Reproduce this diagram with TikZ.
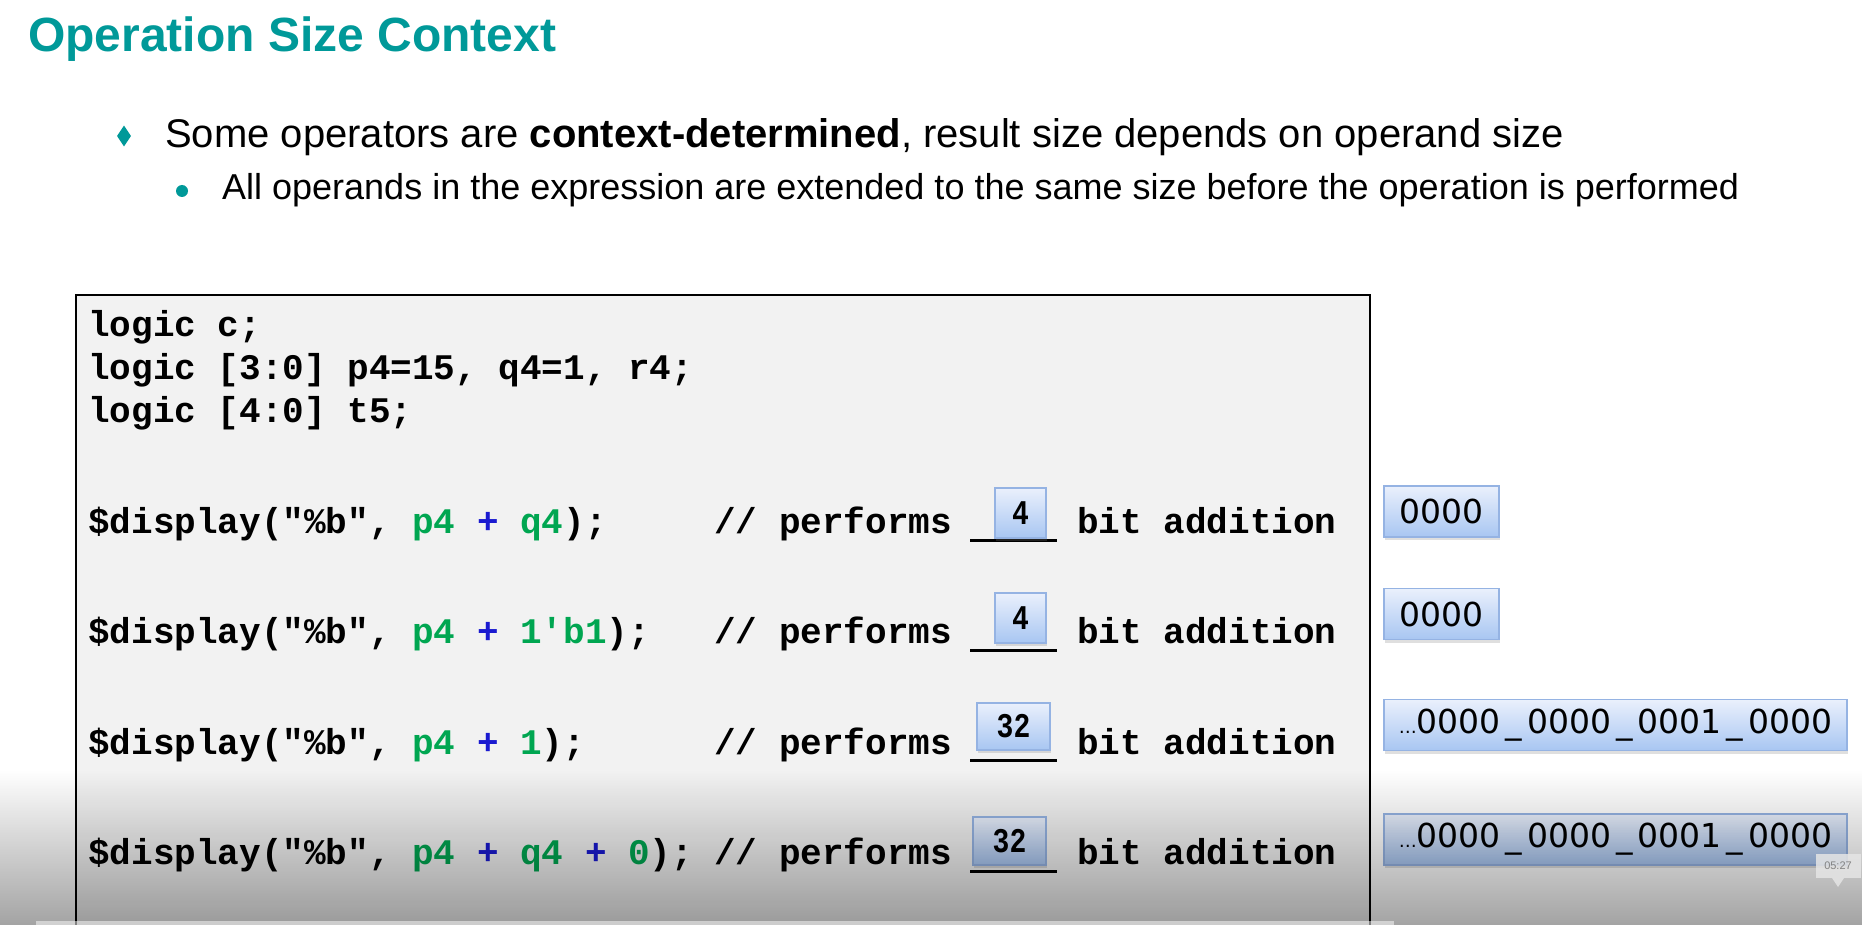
\documentclass[tikz,border=0pt]{standalone}
\usepackage{graphicx}
\usepackage{fontspec}
\setmainfont{Liberation Sans}
\setmonofont{Liberation Mono}
\newfontfamily\resfont{DejaVu Sans}
\usetikzlibrary{shadows,fadings,shapes.geometric}
\definecolor{teal1}{HTML}{009999}
\definecolor{cgreen}{HTML}{00A651}
\definecolor{cblue}{HTML}{1A1AD0}
\definecolor{boxtop}{HTML}{EAF0FC}
\definecolor{boxbot}{HTML}{A8C6F2}
\definecolor{boxline}{HTML}{95B3E3}
\definecolor{codebg}{HTML}{F2F2F2}
\newcommand{\gr}[1]{\textcolor{cgreen}{#1}}
\newcommand{\bl}[1]{\textcolor{cblue}{#1}}
\newcommand{\us}{\kern5pt\_\kern5pt}
\begin{document}
\begin{tikzpicture}[x=1pt,y=-1pt,
  code/.style={anchor=base west, inner sep=0pt, font=\fontsize{36}{43}\selectfont\ttfamily\bfseries},
  valbox/.style={draw=boxline, line width=1.5pt, top color=boxtop, bottom color=boxbot,
     drop shadow={shadow xshift=1pt, shadow yshift=-3pt, opacity=0.25}, inner sep=0pt},
  numbox/.style={valbox, font=\fontsize{33}{35}\selectfont\ttfamily\bfseries},
  resbox/.style={valbox, font=\fontsize{33}{35}\selectfont\resfont},
  blank/.style={line width=3pt},
  bodytext/.style={anchor=base west, inner sep=0pt}
]
\useasboundingbox (0,0) rectangle (1868,925);
\clip (0,0) rectangle (1868,925);
\fill[white] (0,0) rectangle (1868,925);

% title and bullets
\node[bodytext, font=\fontsize{48}{56}\selectfont\bfseries, text=teal1] (title) at (28,52) {Operation Size Context};
\node[diamond, fill=teal1, minimum width=14pt, minimum height=21pt, inner sep=0pt] (bul1) at (124,136) {};
\node[bodytext, font=\fontsize{40}{48}\selectfont] (b1) at (165,148) {Some operators are \textbf{context-determined}, result size depends on operand size};
\node[circle, fill=teal1, minimum size=12pt, inner sep=0pt] (bul2) at (182,191) {};
\node[bodytext, font=\fontsize{36}{43}\selectfont] (b2) at (222,200) {All operands in the expression are extended to the same size before the operation is performed};

% code box
\node[draw, line width=2pt, fill=codebg, anchor=north west, minimum width=1294pt, minimum height=660pt, inner sep=0pt] (codebox) at (75,294) {};

\node[code] (l1) at (88,336) {logic c;};
\node[code] (l2) at (88,379) {logic [3:0] p4=15, q4=1, r4;};
\node[code] (l3) at (88,422) {logic [4:0] t5;};

\node[code] (d1) at (88,533) {\$display("\%b", \gr{p4} \bl{+} \gr{q4});};
\node[code] (d2) at (88,643) {\$display("\%b", \gr{p4} \bl{+} \gr{1'b1});};
\node[code] (d3) at (88,754) {\$display("\%b", \gr{p4} \bl{+} \gr{1});};
\node[code] (d4) at (88,864) {\$display("\%b", \gr{p4} \bl{+} \gr{q4} \bl{+} \gr{0});};

\foreach \i/\y in {1/533,2/643,3/754,4/864}{
  \node[code] (c\i) at (714,\y) {// performs};
  \node[code] (a\i) at (1077,\y) {bit addition};
}

% blanks
\coordinate (u1a) at (970,540); \coordinate (u1b) at (1057,540);
\coordinate (u2a) at (970,650); \coordinate (u2b) at (1057,650);
\coordinate (u3a) at (970,760); \coordinate (u3b) at (1057,760);
\coordinate (u4a) at (970,871); \coordinate (u4b) at (1057,871);
\draw[blank] (u1a) -- (u1b);
\draw[blank] (u2a) -- (u2b);
\draw[blank] (u3a) -- (u3b);
\draw[blank] (u4a) -- (u4b);

\node[numbox, minimum width=51pt, minimum height=50pt] (n1) at (1020.5,513) {\scalebox{0.85}[1.05]{4}};
\node[numbox, minimum width=51pt, minimum height=50pt] (n2) at (1020.5,618) {\scalebox{0.85}[1.05]{4}};
\node[numbox, minimum width=73pt, minimum height=47pt] (n3) at (1013.5,726.5) {\scalebox{0.85}[1.05]{32}};
\node[numbox, minimum width=73pt, minimum height=48pt] (n4) at (1009.5,841) {\scalebox{0.85}[1.05]{32}};

% results
\node[resbox, minimum width=115pt, minimum height=51pt] (r1) at (1441.5,511.5) {0000};
\node[resbox, minimum width=115pt, minimum height=51pt] (r2) at (1441.5,614) {0000};
\node[resbox, minimum width=463pt, minimum height=51pt] (r3) at (1615.5,725) {{\fontsize{18}{20}\selectfont …}0000\us0000\us0001\us0000};
\node[resbox, minimum width=463pt, minimum height=51pt] (r4) at (1615.5,839.5) {{\fontsize{18}{20}\selectfont …}0000\us0000\us0001\us0000};

% video overlay shading
\fill[black, path fading=north, opacity=0.36] (0,770) rectangle (1868,925);
\fill[white, opacity=0.5] (36,921) rectangle (1394,925);

% tooltip
\node[fill=gray!20, fill opacity=0.85, text=gray!90!black, font=\fontsize{11}{13}\selectfont, minimum width=45pt, minimum height=24pt, inner sep=0pt] (tip) at (1838,866) {05:27};
\fill[gray!20, opacity=0.85] (1832,878) -- (1844,878) -- (1838,887) -- cycle;
\end{tikzpicture}
\end{document}
